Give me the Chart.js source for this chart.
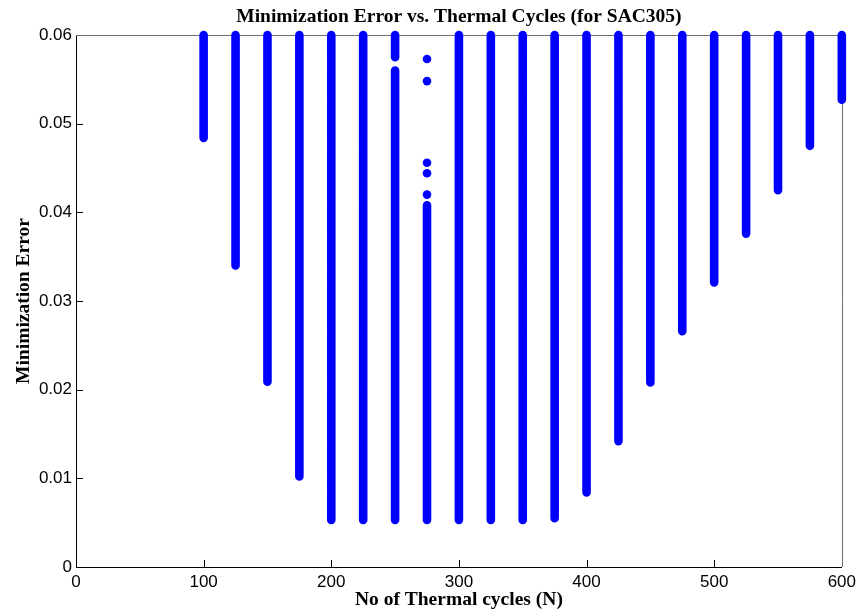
<!DOCTYPE html>
<html>
<head>
<meta charset="utf-8">
<script src="https://cdn.jsdelivr.net/npm/chart.js@4/dist/chart.umd.min.js"></script>
<style>
  html, body { margin: 0; padding: 0; background: #ffffff; }
  canvas { display: block; }
</style>
</head>
<body>
<canvas id="chart" width="861" height="615"></canvas>
<script>
// Thermal cycle counts where the error was evaluated
const cycles = [100, 125, 150, 175, 200, 225, 250, 275, 300, 325, 350,
                375, 400, 425, 450, 475, 500, 525, 550, 575, 600];

// Smallest minimization error reached at each cycle count
const minError = [0.0484, 0.0340, 0.0209, 0.0102, 0.0053, 0.0053, 0.0053,
                  0.0053, 0.0053, 0.0053, 0.0053, 0.0055, 0.0084, 0.0142,
                  0.0208, 0.0266, 0.0321, 0.0376, 0.0425, 0.0475, 0.0527];

// Upper end of the dense band at each cycle count (values run past the axis top)
const maxError = [0.0600, 0.0600, 0.0600, 0.0600, 0.0600, 0.0600, 0.0600,
                  0.0408, 0.0600, 0.0600, 0.0600, 0.0600, 0.0600, 0.0600,
                  0.0600, 0.0600, 0.0600, 0.0600, 0.0600, 0.0600, 0.0600];

// Empty stretches inside a band: [cycle, lower edge, upper edge]
const gapCycle = [250];
const gapLow   = [0.0560];
const gapHigh  = [0.0575];

// Isolated solutions above the dense band
const sparseCycle = [275, 275, 275, 275, 275];
const sparseError = [0.0573, 0.0548, 0.0456, 0.0444, 0.0420];

// Axis ticks
const xTicks = [0, 100, 200, 300, 400, 500, 600];
const yTicks = [0, 0.01, 0.02, 0.03, 0.04, 0.05, 0.06];

// Build one broken polyline: each band is a vertical run, null breaks between runs
const bandPoints = [];
cycles.forEach((c, i) => {
  const g = gapCycle.indexOf(c);
  if (g >= 0) {
    bandPoints.push({ x: c, y: minError[i] }, { x: c, y: gapLow[g] }, { x: c, y: null });
    bandPoints.push({ x: c, y: gapHigh[g] }, { x: c, y: maxError[i] }, { x: c, y: null });
  } else {
    bandPoints.push({ x: c, y: minError[i] }, { x: c, y: maxError[i] }, { x: c, y: null });
  }
});
const sparsePoints = sparseCycle.map((c, i) => ({ x: c, y: sparseError[i] }));

const BLUE = '#0000ff';
const SERIF = "'Liberation Serif', 'Times New Roman', serif";
const SANS = "'Liberation Sans', Arial, Helvetica, sans-serif";

// Frame (top/right edges) and inward tick marks
const frameAndTicks = {
  id: 'frameAndTicks',
  beforeDatasetsDraw(chart) {
    const { ctx, chartArea: a, scales: { x, y } } = chart;
    ctx.save();
    ctx.lineWidth = 1;
    ctx.strokeStyle = '#6e6e6e';
    ctx.beginPath();
    ctx.moveTo(a.left, Math.round(a.top) + 0.5);
    ctx.lineTo(Math.round(a.right) + 0.5, Math.round(a.top) + 0.5);
    ctx.lineTo(Math.round(a.right) + 0.5, a.bottom);
    ctx.stroke();
    ctx.strokeStyle = '#000000';
    ctx.beginPath();
    xTicks.forEach(v => {
      if (v <= x.min || v >= x.max) return;
      const px = Math.round(x.getPixelForValue(v)) + 0.5;
      ctx.moveTo(px, a.bottom);
      ctx.lineTo(px, a.bottom - 7);
    });
    yTicks.forEach(v => {
      if (v <= y.min || v >= y.max) return;
      const py = Math.round(y.getPixelForValue(v)) + 0.5;
      ctx.moveTo(a.left, py);
      ctx.lineTo(a.left + 7, py);
    });
    ctx.stroke();
    ctx.restore();
  }
};

new Chart(document.getElementById('chart'), {
  type: 'line',
  data: {
    datasets: [
      {
        data: bandPoints,
        borderColor: BLUE,
        borderWidth: 8.6,
        borderCapStyle: 'round',
        pointRadius: 0,
        spanGaps: false,
        fill: false,
        clip: false
      },
      {
        type: 'scatter',
        data: sparsePoints,
        backgroundColor: BLUE,
        borderColor: BLUE,
        borderWidth: 0,
        pointRadius: 4.3,
        clip: false
      }
    ]
  },
  options: {
    responsive: false,
    animation: false,
    devicePixelRatio: 1,
    layout: { padding: { left: 0, right: 17, top: 0, bottom: 0 } },
    plugins: {
      legend: { display: false },
      tooltip: { enabled: false },
      title: {
        display: true,
        text: 'Minimization Error vs. Thermal Cycles (for SAC305)',
        color: '#000000',
        font: { family: SERIF, size: 19.5, weight: 'bold' },
        padding: { top: 5, bottom: 6.6 },
        fullSize: false
      }
    },
    scales: {
      x: {
        type: 'linear',
        min: 0,
        max: 600,
        grid: { display: false, drawTicks: false },
        border: { display: true, color: '#000000', width: 1 },
        afterBuildTicks: s => { s.ticks = xTicks.map(v => ({ value: v })); },
        ticks: {
          color: '#000000',
          font: { family: SANS, size: 17 },
          maxRotation: 0,
          autoSkip: false,
          padding: 5
        },
        title: {
          display: true,
          text: 'No of Thermal cycles (N)',
          color: '#000000',
          font: { family: SERIF, size: 19.5, weight: 'bold' },
          padding: { top: 0, bottom: 3.3 }
        },
        afterFit: s => { s.height = 48; }
      },
      y: {
        type: 'linear',
        min: 0,
        max: 0.06,
        grid: { display: false, drawTicks: false },
        border: { display: true, color: '#000000', width: 1 },
        afterBuildTicks: s => { s.ticks = yTicks.map(v => ({ value: v })); },
        ticks: {
          color: '#000000',
          font: { family: SANS, size: 17 },
          padding: 4,
          callback: v => (v === 0 ? '0' : v.toFixed(2))
        },
        title: {
          display: true,
          text: 'Minimization Error',
          color: '#000000',
          font: { family: SERIF, size: 19.5, weight: 'bold' },
          padding: { top: 12.3, bottom: 0 }
        },
        afterFit: s => { s.width = 76; }
      }
    }
  },
  plugins: [frameAndTicks]
});
</script>
</body>
</html>
